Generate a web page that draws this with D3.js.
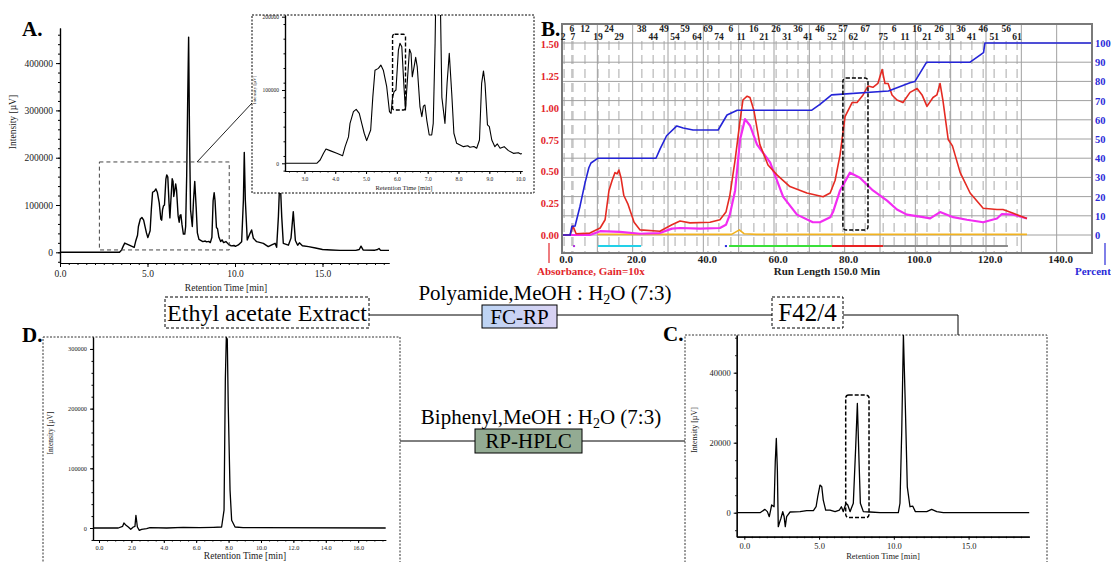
<!DOCTYPE html>
<html>
<head>
<meta charset="utf-8">
<script src="https://d3js.org/d3.v7.min.js"></script>
<style>
  body { margin: 0; background: #fff; }
  svg { display: block; font-family: 'Liberation Serif', 'Times New Roman', serif; }
</style>
</head>
<body>
<div id="figure"></div>
<script>

  // ---------- data ----------
  // A: ethyl acetate extract chromatogram [time min, intensity µV]
  var extractRun = [[0,0],[3.40,0],[3.51,4500],[3.62,13600],[3.70,19500],[3.83,17300],[4.05,13600],[4.24,10400],
    [4.32,22700],[4.43,36000],[4.48,54500],[4.59,70400],[4.68,73600],[4.78,68000],[4.86,54500],[4.94,41000],
    [5.02,31000],[5.15,45500],[5.22,91000],[5.29,127000],[5.40,129500],[5.48,134000],[5.56,127000],[5.67,104500],
    [5.76,70400],[5.81,68000],[5.86,90000],[5.91,97700],[5.97,100000],[6.05,154500],[6.10,163600],[6.16,159000],
    [6.23,104500],[6.28,72700],[6.32,100000],[6.41,155500],[6.46,150000],[6.50,118000],[6.56,132000],[6.61,144500],
    [6.66,132000],[6.75,77000],[6.81,63600],[6.86,78000],[6.91,79500],[6.97,59000],[7.05,38600],[7.13,38600],
    [7.18,54500],[7.24,163600],[7.30,330000],[7.35,455000],[7.40,250000],[7.46,90000],[7.56,54500],[7.63,110000],
    [7.70,150000],[7.78,95500],[7.85,41000],[7.94,27300],[8.16,22700],[8.30,24000],[8.37,22000],[8.50,23000],
    [8.59,20500],[8.68,31800],[8.75,109000],[8.81,126000],[8.86,109000],[8.94,52300],[9.00,50000],[9.08,31800],
    [9.18,22700],[9.26,26400],[9.35,20500],[9.48,22700],[9.62,17300],[9.78,13600],[9.94,14500],[10.02,12700],
    [10.19,15500],[10.38,22500],[10.48,110600],[10.53,211300],[10.59,110600],[10.70,26100],[10.86,40100],
    [10.95,47200],[11.05,29600],[11.24,22500],[11.62,19000],[11.90,12000],[12.10,15500],[12.29,19000],
    [12.38,10600],[12.48,75400],[12.57,165000],[12.67,75400],[12.76,19000],[13.05,15000],[13.20,30000],
    [13.33,86000],[13.45,25000],[13.58,15000],[13.68,20000],[13.85,14000],[14.2,12000],[14.6,9000],[15.0,6000],
    [15.5,5000],[16.0,4000],[16.9,4000],[17.1,6000],[17.2,13000],[17.32,5000],[18.0,4500],[18.15,6000],
    [18.23,8000],[18.32,4000],[18.8,4000]];

  // D: RP-HPLC of the isolated compound
  var purifiedRun = [[-0.37,0],[1.19,0],[1.46,2800],[1.54,8400],[1.67,4500],[1.81,1700],[1.96,-2200],[2.12,1700],
    [2.22,2800],[2.28,21300],[2.37,1700],[2.49,-3900],[2.63,-2200],[2.94,-1100],[3.15,600],[4.18,0],[5.2,1100],
    [6.23,600],[7.06,1100],[7.57,1700],[7.72,29800],[7.80,248900],[7.86,319000],[7.92,316300],[7.98,203900],
    [8.09,63500],[8.19,12900],[8.4,1700],[8.9,600],[17.7,0]];

  // C: fraction F42/4
  var fractionRun = [[-0.51,0],[1.05,0],[1.38,950],[1.54,300],[1.67,-1140],[1.83,2200],[1.99,1700],[2.07,14600],
    [2.14,21200],[2.21,12200],[2.27,-4000],[2.34,-3000],[2.45,-1600],[2.57,300],[2.66,-1100],[2.74,-4000],
    [2.83,-1100],[3.06,200],[3.73,300],[4.17,600],[4.62,600],[4.8,1700],[4.91,4600],[5.06,7900],[5.18,7400],
    [5.28,3600],[5.44,760],[5.73,760],[6.07,300],[6.36,760],[6.49,1700],[6.62,300],[6.8,2700],[6.92,2200],
    [7.07,300],[7.29,2700],[7.45,18900],[7.56,31200],[7.67,15000],[7.76,2700],[7.96,300],[8.41,200],[9.08,0],
    [10.3,0],[10.41,2700],[10.53,23600],[10.64,50800],[10.77,30300],[10.9,7400],[11.08,1700],[11.26,1900],
    [11.44,300],[12.2,300],[12.53,950],[12.87,300],[13.31,0],[19.06,0]];

  // B: flash chromatography run (min)
  var gradientPct = [[0,0],[2.3,0],[2.8,4.5],[3.7,4.7],[5.1,15],[6.5,27],[7.6,35],[8.2,37.5],[10.2,40],[26.6,40],
    [27.8,45],[29.6,51.7],[32.5,56.8],[34.3,55.7],[37.1,54.7],[44.2,54.7],[46.7,62.5],[49.6,65],[70.7,65],
    [73.0,68],[76.3,73],[92.4,75],[98.5,79.3],[99.9,80],[103.2,90],[115.5,90],[119.3,95],[119.7,100],[150,100]];
  var absRed = [[0,0],[2.3,0],[3.1,0.07],[4.0,0.01],[7.9,0.015],[10.8,0.055],[12.2,0.12],[13.3,0.35],[14.2,0.43],
    [15.0,0.49],[15.6,0.48],[16.1,0.51],[16.7,0.45],[17.5,0.31],[18.7,0.24],[20.4,0.1],[22.1,0.04],[27.7,0.03],
    [31.1,0.08],[33.4,0.11],[36.2,0.095],[41.9,0.1],[44.7,0.12],[46.4,0.18],[47.5,0.31],[49.0,0.59],[50.4,0.9],
    [51.2,1.06],[52.4,1.09],[53.2,1.08],[54.3,0.98],[56.0,0.71],[58.3,0.55],[60.9,0.47],[64.5,0.38],[69.3,0.33],
    [73.9,0.30],[75.9,0.33],[77.3,0.43],[78.7,0.63],[80.1,0.93],[82.1,1.04],[83.5,1.04],[85.2,1.10],[86.6,1.17],
    [88.0,1.16],[89.4,1.19],[90.6,1.30],[91.4,1.19],[92.3,1.19],[93.4,1.10],[94.8,1.06],[96.5,1.04],[98.5,1.12],
    [100.5,1.15],[101.9,1.10],[103.3,1.01],[105.0,1.08],[106.1,1.10],[107.0,1.19],[107.8,1.06],[109.3,0.75],
    [110.5,0.7],[112.7,0.49],[115.5,0.33],[119.2,0.21],[123.1,0.2],[124.8,0.2],[127.7,0.17],[131.6,0.13]];
  var absMagenta = [[0,0],[7.9,0],[10.8,0.03],[16.4,0.025],[22.1,0.01],[27.7,0.015],[31.1,0.05],[33.4,0.055],
    [39.1,0.05],[44.7,0.055],[46.4,0.08],[47.5,0.16],[49.0,0.35],[50.4,0.75],[51.8,0.91],[53.2,0.86],[55.2,0.71],
    [58.9,0.57],[62.6,0.3],[66.5,0.16],[71.0,0.1],[73.0,0.1],[75.9,0.14],[76.7,0.18],[78.7,0.35],[81.5,0.49],
    [84.3,0.45],[88.0,0.35],[92.0,0.27],[94.8,0.2],[97.6,0.16],[102.2,0.14],[104.2,0.13],[107.0,0.18],[110.7,0.14],
    [114.6,0.12],[119.2,0.1],[123.1,0.13],[124.5,0.165],[127.7,0.16],[131.6,0.13]];
  var absOrange = [[10,0.005],[48,0.005],[50.2,0.04],[51.5,0.01],[55,0.005],[131.6,0.005]];
  var fractionLabels = ["2","6","7","12","19","24","29","38","44","49","54","59","64","69","74","6","11","16","21",
    "26","31","36","41","46","52","57","62","67","75","6","11","16","21","26","31","36","41","46","51","56","61"];
  var fractionTimes = [0.6,2.8,3.1,6.5,10.2,13.3,16.1,22.6,25.8,28.9,32.0,34.8,38.2,41.3,44.4,47.8,50.7,54.3,57.2,
    60.6,63.7,66.8,69.6,73.0,76.4,79.5,82.4,85.8,90.9,94.0,97.1,100.5,103.3,106.7,109.8,112.9,116.0,119.2,122.3,
    125.7,128.8];
  var collectStart = [3.1, 10.2, 46.1, 47.3, 76.4, 90.9];
  var collectEnd = [3.7, 22.4, 46.7, 76.4, 90.9, 126.2];
  var absTicks = [0, 0.25, 0.5, 0.75, 1.0, 1.25, 1.5];
  var pctTicks = [0, 10, 20, 30, 40, 50, 60, 70, 80, 90, 100];
  var runTicks = [0, 20, 40, 60, 80, 100, 120, 140];

  // ---------- drawing ----------
  var collectColor = ["#b030e0", "#22d0e8", "#2a2ae0", "#3ae03a", "#e82222", "#8a8a8a"];
  var FONT = "Liberation Serif";

  var svg = d3.select("#figure").append("svg").attr("width", 1111).attr("height", 562);
  var defs = svg.append("defs");

  function clipRect(id, x, y, w, h) {
    defs.append("clipPath").attr("id", id).append("rect")
      .attr("x", x).attr("y", y).attr("width", w).attr("height", h);
  }

  function letter(txt, x, y) {
    svg.append("text").attr("x", x).attr("y", y)
      .attr("font-size", 21).attr("font-weight", "bold").text(txt);
  }

  // JASCO style axes: major + minor outward ticks
  function chromAxes(g, x, y, o) {
    var xb = y.range()[0], yl = x.range()[0];
    var ax = g.append("g").attr("transform", "translate(0," + xb + ")");
    ax.call(d3.axisBottom(x).tickValues(o.xMinor).tickSize(o.minor).tickSizeOuter(0).tickFormat(""));
    ax.append("g").call(d3.axisBottom(x).tickValues(o.xMajor).tickSize(o.major).tickSizeOuter(0)
      .tickFormat(d3.format(".1f")));
    var ay = g.append("g").attr("transform", "translate(" + yl + ",0)");
    ay.call(d3.axisLeft(y).tickValues(o.yMinor).tickSize(o.minor).tickSizeOuter(0).tickFormat(""));
    ay.append("g").call(d3.axisLeft(y).tickValues(o.yMajor).tickSize(o.major).tickSizeOuter(0)
      .tickFormat(d3.format("d")));
    g.selectAll(".domain").attr("stroke", "#000").attr("stroke-width", 1.2);
    g.selectAll(".tick line").attr("stroke", "#000");
    g.selectAll(".tick text").attr("font-family", FONT).attr("font-size", o.fs).attr("fill", "#222");
    g.append("text").attr("x", o.titleX).attr("y", o.titleY).attr("text-anchor", "middle")
      .attr("font-size", o.titleFs).attr("fill", "#222").text("Retention Time [min]");
    g.append("text").attr("transform", "translate(" + o.yTitleX + "," + o.yTitleY + ")rotate(-90)")
      .attr("text-anchor", "middle").attr("font-size", o.yTitleFs).attr("fill", "#222")
      .text("Intensity [\u00b5V]");
  }

  function trace(g, data, x, y, clipId, w) {
    g.append("path").datum(data)
      .attr("clip-path", "url(#" + clipId + ")")
      .attr("fill", "none").attr("stroke", "#000").attr("stroke-width", w)
      .attr("stroke-linejoin", "round")
      .attr("d", d3.line().x(function (d) { return x(d[0]); }).y(function (d) { return y(d[1]); }));
  }

  // ---- panel A ----
  var gA = svg.append("g");
  var xA = d3.scaleLinear().domain([0, 18.8]).range([60, 389]);
  var yA = d3.scaleLinear().domain([-22600, 474200]).range([263, 28]);
  clipRect("clipA", 60, 28, 329, 235);
  chromAxes(gA, xA, yA, {
    xMajor: [0, 5, 10, 15], xMinor: d3.range(0, 18.8, 0.5),
    yMajor: [0, 100000, 200000, 300000, 400000], yMinor: d3.range(-20000, 474000, 20000),
    major: 4, minor: 2, fs: 9.5, titleX: 226, titleY: 291, titleFs: 9.5,
    yTitleX: 16, yTitleY: 122, yTitleFs: 9.5
  });
  trace(gA, extractRun, xA, yA, "clipA", 1.4);
  // zoomed window
  gA.append("rect")
    .attr("x", xA(2.25)).attr("y", yA(191000))
    .attr("width", xA(9.67) - xA(2.25)).attr("height", yA(5000) - yA(191000))
    .attr("fill", "none").attr("stroke", "#444").attr("stroke-dasharray", "4,3").attr("stroke-width", 1);
  gA.append("line").attr("x1", 197).attr("y1", 162).attr("x2", 252).attr("y2", 103)
    .attr("stroke", "#222").attr("stroke-width", 1);

  // inset
  var gI = svg.append("g");
  gI.append("rect").attr("x", 252).attr("y", 15).attr("width", 282).attr("height", 178)
    .attr("fill", "#fff").attr("stroke", "#000").attr("stroke-dasharray", "2,1.5");
  var xI = d3.scaleLinear().domain([2.37, 10.06]).range([285, 522]);
  var yI = d3.scaleLinear().domain([-10500, 202300]).range([171, 15]);
  clipRect("clipI", 285, 15, 237, 156);
  chromAxes(gI, xI, yI, {
    xMajor: [3, 4, 5, 6, 7, 8, 9, 10], xMinor: d3.range(2.5, 10.06, 0.25),
    yMajor: [0, 100000, 200000], yMinor: d3.range(-10000, 202300, 20000),
    major: 3, minor: 1.5, fs: 5.5, titleX: 404, titleY: 190, titleFs: 6.6,
    yTitleX: 256, yTitleY: 90, yTitleFs: 5
  });
  trace(gI, extractRun, xI, yI, "clipI", 1.1);
  gI.append("rect")
    .attr("x", xI(5.86)).attr("y", yI(176000))
    .attr("width", xI(6.28) - xI(5.86)).attr("height", yI(72700) - yI(176000))
    .attr("rx", 2).attr("fill", "none").attr("stroke", "#000")
    .attr("stroke-dasharray", "4,2").attr("stroke-width", 1.4);
  letter("A.", 22, 36);

  // ---- panel B ----
  var gB = svg.append("g");
  var xB = d3.scaleLinear().domain([0, 150]).range([562, 1092]);
  var yAbs = d3.scaleLinear().domain([0, 1.5]).range([235, 44]);
  var yPct = d3.scaleLinear().domain([0, 100]).range([235, 43]);
  gB.append("rect").attr("x", 562).attr("y", 24).attr("width", 530).attr("height", 229)
    .attr("fill", "#fff");
  gB.selectAll("line.fr").data(fractionTimes).enter().append("line")
    .attr("x1", function (d) { return xB(d); }).attr("x2", function (d) { return xB(d); })
    .attr("y1", 41).attr("y2", 253)
    .attr("stroke", "#b8b8b8").attr("stroke-dasharray", "9,5").attr("stroke-width", 1.2);
  gB.selectAll("line.vg").data(d3.range(10, 150, 10)).enter().append("line")
    .attr("x1", function (d) { return xB(d); }).attr("x2", function (d) { return xB(d); })
    .attr("y1", 24).attr("y2", 253).attr("stroke", "#a0a0a0").attr("stroke-width", 1);
  gB.selectAll("line.hg").data(pctTicks).enter().append("line")
    .attr("x1", 562).attr("x2", 1092)
    .attr("y1", function (d) { return yPct(d); }).attr("y2", function (d) { return yPct(d); })
    .attr("stroke", "#a0a0a0").attr("stroke-width", 1);
  gB.selectAll("line.bar").data(collectStart).enter().append("line")
    .attr("x1", function (d) { return xB(d); })
    .attr("x2", function (d, i) { return xB(collectEnd[i]); })
    .attr("y1", yAbs(-0.087)).attr("y2", yAbs(-0.087))
    .attr("stroke", function (d, i) { return collectColor[i]; }).attr("stroke-width", 2);

  function runLine(data, yScale, color, w) {
    gB.append("path").datum(data).attr("fill", "none").attr("stroke", color)
      .attr("stroke-width", w).attr("stroke-linejoin", "round")
      .attr("d", d3.line().x(function (d) { return xB(d[0]); }).y(function (d) { return yScale(d[1]); }));
  }
  runLine(absOrange, yAbs, "#f2b320", 1.6);
  runLine(absMagenta, yAbs, "#f22cf2", 2.2);
  runLine(absRed, yAbs, "#e52a22", 1.6);
  runLine(gradientPct, yPct, "#2424d8", 1.6);

  gB.append("rect").attr("x", 562).attr("y", 24).attr("width", 530).attr("height", 229)
    .attr("fill", "none").attr("stroke", "#7a7a7a").attr("stroke-width", 2);

  gB.append("rect")
    .attr("x", xB(79.5)).attr("y", yAbs(1.233))
    .attr("width", xB(86.6) - xB(79.5)).attr("height", yAbs(0.04) - yAbs(1.233))
    .attr("rx", 3).attr("fill", "none").attr("stroke", "#000")
    .attr("stroke-dasharray", "4,2").attr("stroke-width", 1.5);

  gB.selectAll("text.fr").data(fractionLabels).enter().append("text")
    .attr("x", function (d, i) { return xB(fractionTimes[i]) + (i === 0 ? -1 : 0); })
    .attr("y", function (d, i) { return i % 2 === 0 ? 40 : 31.5; })
    .attr("text-anchor", "middle").attr("font-size", 9.5).attr("font-weight", "bold")
    .attr("fill", "#222").text(function (d) { return d; });

  gB.selectAll("text.abs").data(absTicks).enter().append("text")
    .attr("x", 559).attr("y", function (d) { return yAbs(d) + 4; })
    .attr("text-anchor", "end").attr("font-size", 10.5).attr("font-weight", "bold")
    .attr("fill", "#e3262b").text(function (d) { return d3.format(".2f")(d); });
  gB.selectAll("text.pct").data(pctTicks).enter().append("text")
    .attr("x", 1095).attr("y", function (d) { return yPct(d) + 4; })
    .attr("font-size", 10.5).attr("font-weight", "bold")
    .attr("fill", "#2b2bd9").text(function (d) { return d; });
  gB.selectAll("text.run").data(runTicks).enter().append("text")
    .attr("x", function (d) { return xB(d) + 4; }).attr("y", 263)
    .attr("text-anchor", "middle").attr("font-size", 11).attr("font-weight", "bold")
    .attr("fill", "#222").text(function (d) { return d3.format(".1f")(d); });
  gB.append("text").attr("x", 827).attr("y", 274.5).attr("text-anchor", "middle")
    .attr("font-size", 11).attr("font-weight", "bold").attr("fill", "#222").text("Run Length 150.0 Min");
  gB.append("text").attr("x", 537).attr("y", 274.5)
    .attr("font-size", 11).attr("font-weight", "bold").attr("fill", "#e3262b").text("Absorbance, Gain=10x");
  gB.append("text").attr("x", 1075).attr("y", 274.5)
    .attr("font-size", 11).attr("font-weight", "bold").attr("fill", "#2b2bd9").text("Percent");
  gB.append("line").attr("x1", 549).attr("x2", 549).attr("y1", 243).attr("y2", 263)
    .attr("stroke", "#e3262b").attr("stroke-width", 1.2);
  gB.append("line").attr("x1", 1105).attr("x2", 1105).attr("y1", 243).attr("y2", 265)
    .attr("stroke", "#2b2bd9").attr("stroke-width", 1.2);
  letter("B.", 541, 36);

  // ---- panel D ----
  var gD = svg.append("g");
  gD.append("rect").attr("x", 43).attr("y", 337).attr("width", 357).attr("height", 240)
    .attr("fill", "none").attr("stroke", "#333").attr("stroke-dasharray", "2,1.5");
  var xD = d3.scaleLinear().domain([-0.37, 17.7]).range([93, 385.7]);
  var yD = d3.scaleLinear().domain([-20100, 320000]).range([540, 337]);
  clipRect("clipD", 93, 337, 293, 203);
  chromAxes(gD, xD, yD, {
    xMajor: d3.range(0, 17, 2), xMinor: d3.range(0, 17.7, 0.5),
    yMajor: [0, 100000, 200000, 300000], yMinor: d3.range(-20000, 320000, 20000),
    major: 3, minor: 1.5, fs: 6.3, titleX: 245, titleY: 559, titleFs: 9.5,
    yTitleX: 53, yTitleY: 433, yTitleFs: 7.5
  });
  trace(gD, purifiedRun, xD, yD, "clipD", 1.3);
  letter("D.", 22, 342);

  // ---- panel C ----
  var gC = svg.append("g");
  gC.append("rect").attr("x", 685).attr("y", 335).attr("width", 362).attr("height", 240)
    .attr("fill", "none").attr("stroke", "#333").attr("stroke-dasharray", "2,1.5");
  var xC = d3.scaleLinear().domain([-0.51, 19.06]).range([736.7, 1029.3]);
  var yC = d3.scaleLinear().domain([-6860, 50770]).range([536.7, 335]);
  clipRect("clipC", 736.7, 335, 293, 202);
  chromAxes(gC, xC, yC, {
    xMajor: [0, 5, 10, 15], xMinor: d3.range(0, 19, 0.5),
    yMajor: [0, 20000, 40000], yMinor: d3.range(-5000, 50770, 5000),
    major: 3, minor: 1.5, fs: 8.5, titleX: 883, titleY: 559, titleFs: 8.5,
    yTitleX: 697, yTitleY: 430, yTitleFs: 8
  });
  trace(gC, fractionRun, xC, yC, "clipC", 1.3);
  gC.append("rect")
    .attr("x", xC(6.78)).attr("y", yC(33600))
    .attr("width", xC(8.34) - xC(6.78)).attr("height", yC(-1400) - yC(33600))
    .attr("rx", 3).attr("fill", "none").attr("stroke", "#000")
    .attr("stroke-dasharray", "4,2").attr("stroke-width", 1.5);
  letter("C.", 663, 341);

  // ---- flow scheme ----
  var grad1 = defs.append("linearGradient").attr("id", "fcrp");
  grad1.append("stop").attr("offset", "0%").attr("stop-color", "#bcd4f4");
  grad1.append("stop").attr("offset", "100%").attr("stop-color", "#d9d2f3");
  var gF = svg.append("g");
  gF.append("line").attr("x1", 369).attr("x2", 772).attr("y1", 315).attr("y2", 315).attr("stroke", "#000");
  gF.append("polyline").attr("points", "843,315 958,315 958,335").attr("fill", "none").attr("stroke", "#000");
  gF.append("line").attr("x1", 400).attr("x2", 685).attr("y1", 441).attr("y2", 441).attr("stroke", "#000");

  gF.append("rect").attr("x", 165).attr("y", 297).attr("width", 204).attr("height", 31)
    .attr("fill", "#fff").attr("stroke", "#000").attr("stroke-dasharray", "3,2");
  gF.append("text").attr("x", 267).attr("y", 321).attr("text-anchor", "middle")
    .attr("font-size", 24).text("Ethyl acetate Extract");

  gF.append("rect").attr("x", 772).attr("y", 297).attr("width", 71).attr("height", 31)
    .attr("fill", "#fff").attr("stroke", "#000").attr("stroke-dasharray", "3,2");
  gF.append("text").attr("x", 807.5).attr("y", 321).attr("text-anchor", "middle")
    .attr("font-size", 25).text("F42/4");

  gF.append("rect").attr("x", 482).attr("y", 305).attr("width", 75).attr("height", 23)
    .attr("fill", "url(#fcrp)").attr("stroke", "#000");
  gF.append("text").attr("x", 519.5).attr("y", 324).attr("text-anchor", "middle")
    .attr("font-size", 21).text("FC-RP");

  gF.append("rect").attr("x", 475).attr("y", 429).attr("width", 107).attr("height", 24)
    .attr("fill", "#93ab93").attr("stroke", "#000");
  gF.append("text").attr("x", 528.5).attr("y", 448).attr("text-anchor", "middle")
    .attr("font-size", 21).text("RP-HPLC");

  function solvent(label, cx, y) {
    var t = gF.append("text").attr("x", cx).attr("y", y).attr("text-anchor", "middle").attr("font-size", 21);
    t.append("tspan").text(label + ",MeOH : H");
    t.append("tspan").attr("dy", 4).attr("font-size", 14).text("2");
    t.append("tspan").attr("dy", -4).text("O (7:3)");
  }
  solvent("Polyamide", 545, 300);
  solvent("Biphenyl", 541, 424);

</script>
</body>
</html>
